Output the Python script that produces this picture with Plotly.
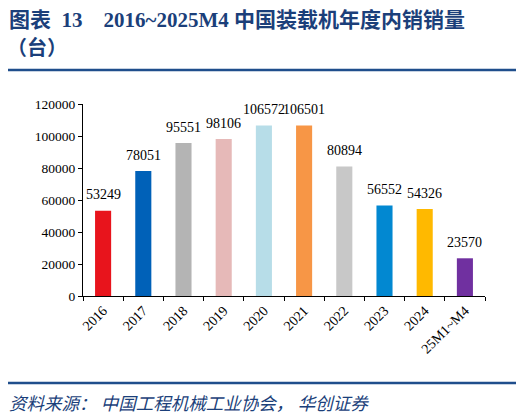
import plotly.graph_objects as go

categories = ["2016", "2017", "2018", "2019", "2020", "2021", "2022", "2023", "2024", "25M1~M4"]
sales = [53249, 78051, 95551, 98106, 106572, 106501, 80894, 56552, 54326, 23570]
bar_colors = ["#E8141C", "#0061B8", "#B4B4B4", "#E6B9B8", "#B7DDE8",
              "#F79646", "#C8C8C8", "#0288D1", "#FFB900", "#7030A0"]
y_ticks = [0, 20000, 40000, 60000, 80000, 100000, 120000]
y_tick_labels = [str(v) for v in y_ticks]

# page body has an 8px margin, so the figure is drawn 8px smaller and offsets shifted
OFF = 8
W, H = 524 - OFF, 418 - OFF
L, T = 83 - OFF, 104 - OFF
R = W - (485 - OFF)
B = H - (296 - OFF)
serif = "Liberation Serif, Times New Roman, serif"
cjk = "Liberation Serif, Noto Sans CJK SC, serif"
blue = "#1B3F7A"

fig = go.Figure(go.Bar(
    x=categories, y=sales, marker=dict(color=bar_colors, line=dict(width=0)),
    width=0.4, cliponaxis=False,
))

# value labels above bars (x given as category index on the category axis)
for i, v in enumerate(sales):
    fig.add_annotation(x=i, y=v, text=str(v), showarrow=False, xref="x", yref="y",
                       yanchor="middle", yshift=16,
                       font=dict(family=serif, size=14, color="#000000"))

fig.update_layout(
    width=W, height=H, margin=dict(l=L, r=R, t=T, b=B, autoexpand=False),
    paper_bgcolor="white", plot_bgcolor="white", showlegend=False,
    font=dict(family=serif, color="#000000", size=13),
    xaxis=dict(type="category", range=[-0.5, len(categories) - 0.5],
               showline=True, linecolor="#000000", linewidth=1,
               ticks="outside", tickson="boundaries", ticklen=4, tickcolor="#000000",
               tickangle=-45, tickfont=dict(family=serif, size=14, color="#000000"),
               showgrid=False),
    yaxis=dict(range=[0, 120000], tickvals=y_ticks, ticktext=y_tick_labels,
               showline=True, linecolor="#000000",
               linewidth=1, ticks="outside", ticklen=4, tickcolor="#000000",
               tickfont=dict(family=serif, size=13.5, color="#000000"),
               showgrid=False, zeroline=False),
)

plot_w = W - L - R
plot_h = H - T - B

def xp(px):
    return (px - OFF - L) / plot_w

def yp(py):
    return (H - B - (py - OFF)) / plot_h

annots = [
    dict(text="<b>图表  13    2016~2025M4 中国装载机年度内销销量</b>", px=7, py=20, size=21, color=blue),
    dict(text="<b>（台）</b>", px=5, py=47, size=20, color=blue),
    dict(text="<i>资料来源： 中国工程机械工业协会， 华创证券</i>", px=7, py=404, size=17.5, color=blue),
]
for a in annots:
    fig.add_annotation(
        text=a["text"], showarrow=False, xref="paper", yref="paper",
        x=xp(a["px"]), y=yp(a["py"]),
        xanchor="left", yanchor="middle",
        font=dict(family=cjk, size=a["size"], color=a["color"]),
    )

for py in [70, 383]:
    fig.add_shape(type="line", xref="paper", yref="paper",
                  x0=xp(5), x1=xp(518), y0=yp(py), y1=yp(py),
                  line=dict(color="#1F4E8C", width=2.5))

fig.write_html("out.html")
